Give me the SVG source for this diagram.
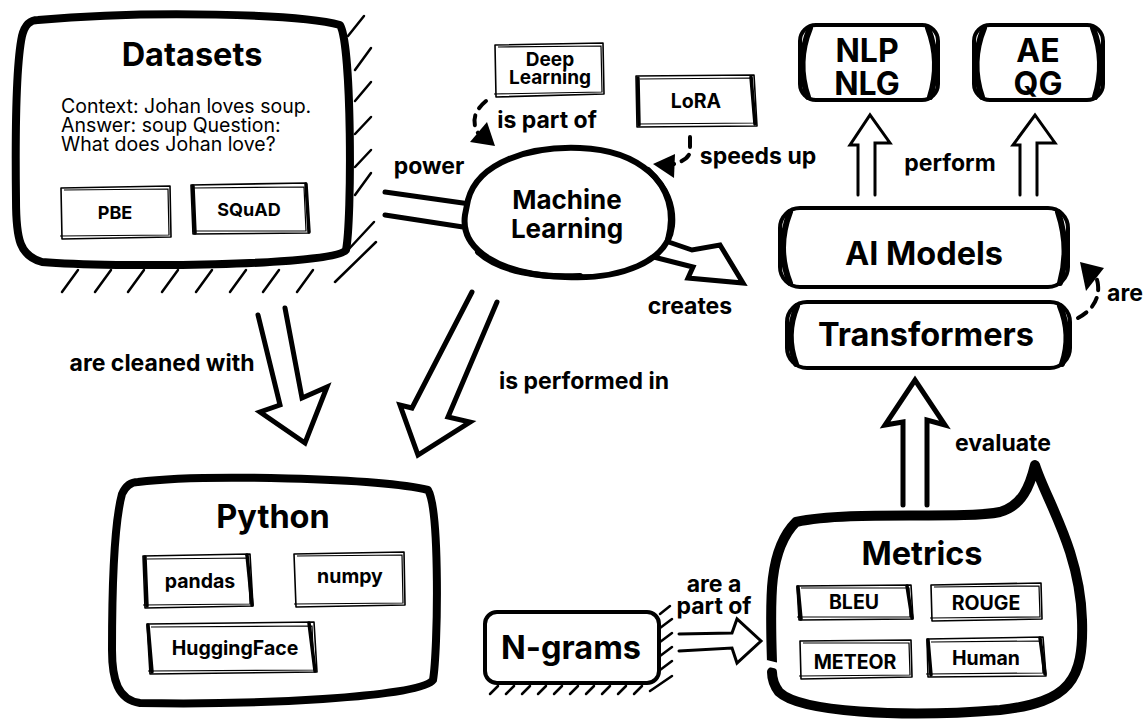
<svg xmlns="http://www.w3.org/2000/svg" width="1147" height="723" viewBox="0 0 1147 723">
<style>
.b{font-family:Inter,"Liberation Sans",sans-serif;font-weight:700;fill:#000;text-anchor:middle}
.r{font-family:Inter,"Liberation Sans",sans-serif;font-weight:400;fill:#000}
.k8{fill:#fff;stroke:#000;stroke-width:8;stroke-linecap:round;stroke-linejoin:round}
.k4{fill:#fff;stroke:#000;stroke-width:4;stroke-linecap:round;stroke-linejoin:round}
.side{fill:none;stroke:#000;stroke-width:6;stroke-linecap:round}
.th{fill:#fff;stroke:#000;stroke-width:1.6;stroke-linejoin:round}
.th2{fill:none;stroke:#000;stroke-width:1.2}
.vs{fill:none;stroke:#000;stroke-width:3.5;stroke-linecap:round}
.h{fill:none;stroke:#000;stroke-width:5;stroke-linecap:round}
.hs{fill:none;stroke:#000;stroke-width:2.5;stroke-linecap:round}
.ar{fill:#fff;stroke:#000;stroke-width:5;stroke-linejoin:miter;stroke-linecap:round}
.ar3{fill:#fff;stroke:#000;stroke-width:3;stroke-linejoin:miter;stroke-linecap:round}
.ds{fill:none;stroke:#000;stroke-width:4;stroke-dasharray:10 8;stroke-linecap:round}
.lb{font-size:23px}
.sm{font-size:19.5px}
.big{font-size:32.5px}
</style>
<rect width="1147" height="723" fill="#fff"/>

<g id="connectors">
  <!-- power -->
  <path class="h" d="M385 192 L470 204"/>
  <path class="h" d="M385 215 L463 227"/>
  <!-- creates -->
  <path class="ar" d="M657 238 L692 250 L720 245 L743 283 L688 278 L693 267 L638 253"/>
  <!-- are cleaned with -->
  <path class="ar" d="M258 315 L280 405 L260 412 L305 443 L327 387 L302 398 L285 308"/>
  <!-- is performed in -->
  <path class="ar" d="M472 292 L412 408 L400 405 L418 455 L470 422 L448 417 L497 302"/>
  <!-- are a part of -->
  <path class="ar3" d="M679 634 L732 633 L737 619 L761 641 L737 663 L732 648 L679 651"/>
  <!-- evaluate -->
  <path class="ar" d="M903 505 L903 422 L885 425 L915 380 L945 425 L927 420 L927 505"/>
  <!-- perform -->
  <path class="ar3" d="M858 195 L858 145 L850 145 L870 115 L890 143 L875 143 L875 195"/>
  <path class="ar3" d="M1020 195 L1020 145 L1013 145 L1035 115 L1055 143 L1037 143 L1037 195"/>
  <!-- is part of -->
  <path class="ds" d="M486 101 Q 468 116 478 133"/>
  <polygon points="470,142 495,146 487,122" fill="#000"/>
  <!-- speeds up -->
  <path class="ds" d="M690 137 L690 152 Q 688 161 670 165" stroke-dasharray="14 6"/>
  <polygon points="653,164 675,154 674,178" fill="#000"/>
  <!-- are -->
  <path class="ds" d="M1078 318 Q 1100 306 1098 285 Q 1097 276 1092 272"/>
  <polygon points="1080,262 1104,268 1086,291" fill="#000"/>
</g>

<g id="datasets">
  <path class="k8" d="M38 20 C 150 10 300 14 340 25 C 352 45 352 220 346 250 C 335 266 110 268 42 262 C 20 256 16 240 16 200 C 15 120 17 60 22 36 C 25 24 30 20 38 20 Z"/>
  <g class="hs" stroke-width="4.5">
    <path d="M348 36 L364 16"/><path d="M355 70 L371 48"/><path d="M355 101 L371 82"/><path d="M355 134 L371 117"/>
    <path d="M355 167 L371 150"/><path d="M355 195 L371 173"/><path d="M348 250 L374 222"/><path d="M335 282 L376 242"/>
    <path d="M62 292 L78 270"/><path d="M95 292 L111 270"/><path d="M128 292 L144 270"/><path d="M162 292 L178 270"/>
    <path d="M196 292 L212 270"/><path d="M230 292 L246 270"/><path d="M263 292 L279 270"/><path d="M297 292 L313 270"/>
  </g>
  <text class="b big" x="192" y="66">Datasets</text>
  <text class="r" x="61" y="113" font-size="19.5">Context: Johan loves soup.</text>
  <text class="r" x="61" y="132" font-size="19.5">Answer: soup Question:</text>
  <text class="r" x="61" y="151" font-size="19.5">What does Johan love?</text>
  <g id="pbe">
    <path class="th" d="M61 188 L170 186 L171 237 L62 239 Z"/>
    <path class="th2" d="M64 190 L168 189 L169 235 L60 236"/>
    <text class="b" x="115" y="219" font-size="18">PBE</text>
  </g>
  <g id="squad">
    <path class="th" d="M191 185 L306 183 L309 233 L193 234 Z"/>
    <path class="vs" d="M193 186 L195 233"/><path class="vs" d="M306 184 L309 232"/>
    <path class="th2" d="M194 188 L304 187 L306 231 L192 231"/>
    <text class="b" x="249" y="216" font-size="18">SQuAD</text>
  </g>
</g>

<g id="deep-learning">
  <path class="th" d="M495 45 L603 43 L604 94 L496 97 Z"/>
  <path class="th2" d="M498 47 L601 46 L602 92 L494 94"/>
  <text class="b" x="550" y="66" font-size="19">Deep</text>
  <text class="b" x="550" y="84" font-size="19">Learning</text>
</g>

<g id="lora">
  <path class="th" d="M636 76 L754 75 L757 126 L637 127 Z"/>
  <path class="vs" d="M638 78 L639 125"/><path class="vs" d="M751 77 L755 124"/>
  <path class="th2" d="M640 79 L752 78 L754 123 L638 124"/>
  <text class="b sm" x="696" y="108">LoRA</text>
</g>

<g id="machine-learning">
  <path fill="#fff" stroke="#000" stroke-width="6" d="M468 200 C 478 162 530 146 580 148 C 640 150 676 185 672 226 C 668 262 620 280 565 277 C 500 275 460 250 465 215 Z"/>
  <path class="side" d="M648 170 C 668 188 676 210 668 240"/>
  <path class="side" d="M478 252 C 500 272 540 278 580 276" stroke-width="5"/>
  <text class="b" x="567" y="209" font-size="26">Machine</text>
  <text class="b" x="567" y="238" font-size="26">Learning</text>
</g>

<g id="nlp">
  <rect class="k4" x="800" y="25" width="138" height="75" rx="16"/>
  <path class="side" d="M810 28 Q 796 62 808 97"/><path class="side" d="M928 28 Q 941 62 930 97"/>
  <text class="b" x="867" y="62" font-size="32">NLP</text>
  <text class="b" x="867" y="95" font-size="32">NLG</text>
</g>

<g id="ae">
  <rect class="k4" x="974" y="25" width="129" height="75" rx="16"/>
  <path class="side" d="M984 28 Q 970 62 982 97"/><path class="side" d="M1093 28 Q 1106 62 1095 97"/>
  <text class="b" x="1038" y="62" font-size="32">AE</text>
  <text class="b" x="1038" y="95" font-size="32">QG</text>
</g>

<g id="ai-models">
  <rect class="k4" x="780" y="208" width="288" height="79" rx="20"/>
  <path class="side" d="M790 212 Q 776 248 790 283"/><path class="side" d="M1058 212 Q 1070 248 1060 283"/>
  <text class="b big" x="924" y="265">AI Models</text>
</g>

<g id="transformers">
  <rect class="k4" x="787" y="302" width="283" height="66" rx="20"/>
  <path class="side" d="M797 306 Q 785 335 796 364"/><path class="side" d="M1060 306 Q 1072 335 1062 364"/>
  <text class="b big" x="926" y="346">Transformers</text>
</g>

<g id="python">
  <path class="k8" d="M138 482 C 200 474 380 478 428 490 C 440 510 438 650 433 680 C 420 698 250 705 140 703 C 118 700 112 680 112 650 C 112 580 115 520 122 494 C 126 485 131 482 138 482 Z"/>
  <text class="b big" x="273" y="528">Python</text>
  <g id="pandas">
    <path class="th" d="M143 556 L250 554 L253 606 L145 608 Z"/>
    <path class="vs" d="M145 557 L147 606"/><path class="vs" d="M247 555 L252 605"/>
    <path class="th2" d="M147 559 L248 558 L250 604 L143 605"/>
    <text class="b sm" x="200" y="588">pandas</text>
  </g>
  <g id="numpy">
    <path class="th" d="M294 554 L404 552 L405 605 L296 607 Z"/>
    <path class="th2" d="M297 556 L402 555 L403 603 L294 604"/>
    <text class="b sm" x="350" y="583">numpy</text>
  </g>
  <g id="huggingface">
    <path class="th" d="M147 624 L314 622 L317 672 L150 674 Z"/>
    <path class="vs" d="M148 625 L152 672"/><path class="vs" d="M309 623 L315 671"/>
    <path class="th2" d="M151 627 L312 626 L314 670 L148 671"/>
    <text class="b sm" x="235" y="655">HuggingFace</text>
  </g>
</g>

<g id="ngrams">
  <rect fill="#fff" stroke="#000" stroke-width="4" x="485" y="612" width="174" height="71" rx="12"/>
  <g class="hs" stroke-width="2.5">
    <path d="M660 614 L670 606"/><path d="M660 628 L672 619"/><path d="M660 642 L672 633"/><path d="M660 656 L672 647"/>
    <path d="M660 670 L672 661"/><path d="M650 691 L672 676"/>
    <path d="M490 694 L498 686"/><path d="M506 694 L514 686"/><path d="M522 694 L530 686"/><path d="M538 694 L546 686"/>
    <path d="M554 694 L562 686"/><path d="M570 694 L578 686"/><path d="M586 694 L594 686"/><path d="M602 694 L610 686"/>
    <path d="M618 694 L626 686"/><path d="M634 694 L642 686"/>
  </g>
  <text class="b big" x="571" y="659">N-grams</text>
</g>

<g id="metrics">
  <path fill="#fff" stroke="#000" stroke-width="10" stroke-linecap="round" stroke-linejoin="round" d="M772 662 C 770 600 768 550 796 522 C 850 510 960 520 1000 512 C 1022 506 1030 486 1035 465 C 1046 500 1080 550 1082 620 C 1084 680 1070 702 1000 710 C 900 718 800 712 779 692 C 773 684 772 678 772 672"/>
  <path fill="none" stroke="#fff" stroke-width="6" d="M766 663 L778 666"/>
  <text class="b big" x="922" y="565">Metrics</text>
  <g id="bleu">
    <path class="th" d="M797 586 L911 585 L913 619 L799 620 Z"/>
    <path class="vs" d="M798 587 L801 619"/><path class="vs" d="M907 586 L912 618"/>
    <path class="th2" d="M801 588 L909 588 L910 617 L797 617"/>
    <text class="b sm" x="854" y="609">BLEU</text>
  </g>
  <g id="rouge">
    <path class="th" d="M931 585 L1041 583 L1042 619 L932 621 Z"/>
    <path class="th2" d="M934 587 L1039 586 L1040 617 L930 618"/>
    <text class="b sm" x="986" y="610">ROUGE</text>
  </g>
  <g id="meteor">
    <path class="th" d="M800 641 L911 640 L912 677 L801 679 Z"/>
    <path class="th2" d="M803 643 L909 643 L910 675 L799 676"/>
    <text class="b sm" x="855" y="669">METEOR</text>
  </g>
  <g id="human">
    <path class="th" d="M927 639 L1043 637 L1046 676 L928 677 Z"/>
    <path class="vs" d="M928 640 L931 675"/><path class="vs" d="M1040 638 L1045 674"/>
    <path class="th2" d="M931 642 L1041 641 L1043 673 L926 674"/>
    <text class="b sm" x="986" y="665">Human</text>
  </g>
</g>

<g id="labels">
  <text class="b lb" x="429" y="174">power</text>
  <text class="b lb" x="547" y="128">is part of</text>
  <text class="b lb" x="758" y="164">speeds up</text>
  <text class="b lb" x="690" y="314">creates</text>
  <text class="b lb" x="950" y="171">perform</text>
  <text class="b lb" x="1125" y="301">are</text>
  <text class="b lb" x="162" y="371">are cleaned with</text>
  <text class="b lb" x="584" y="389">is performed in</text>
  <text class="b lb" x="1003" y="451">evaluate</text>
  <text class="b lb" x="714" y="592">are a</text>
  <text class="b lb" x="714" y="614">part of</text>
</g>
</svg>
